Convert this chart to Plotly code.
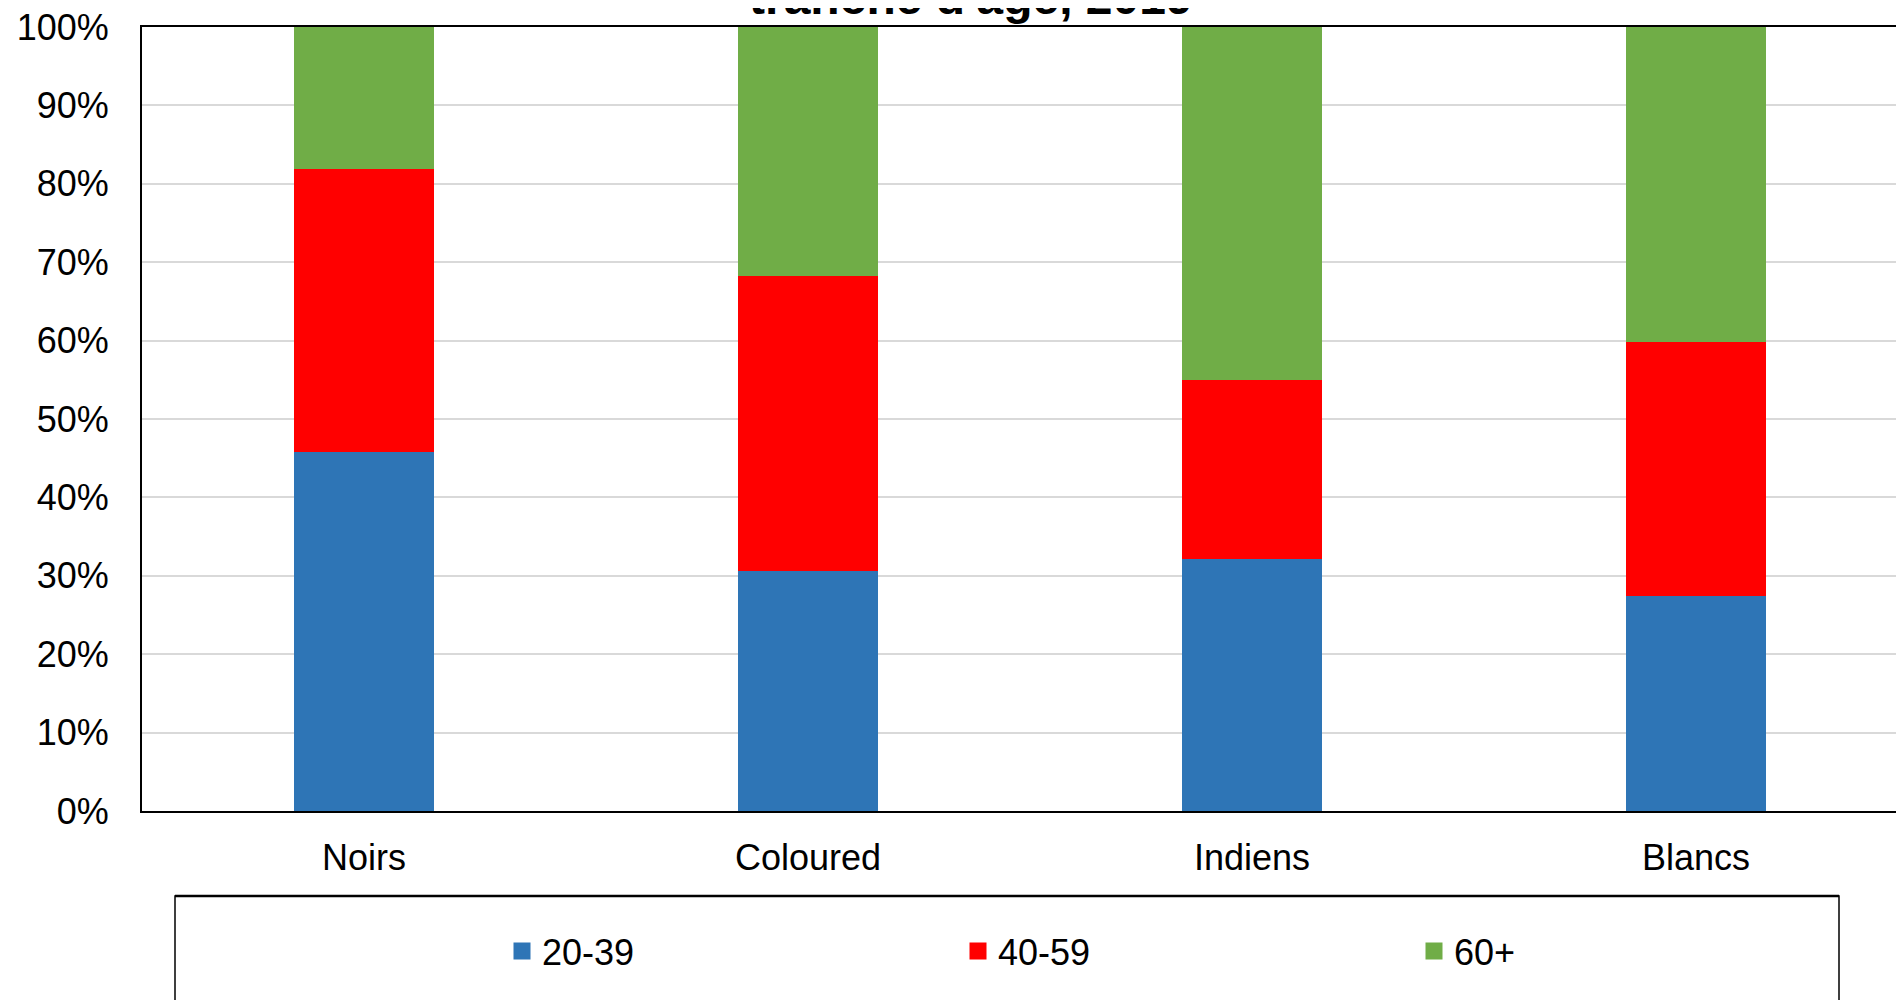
import plotly.graph_objects as go

categories = ["Noirs", "Coloured", "Indiens", "Blancs"]
age_groups = ["20-39", "40-59", "60+"]
values_20_39 = [45.8, 30.6, 32.1, 27.4]
values_40_59 = [36.1, 37.6, 22.9, 32.4]
values_60_plus = [18.1, 31.8, 45.0, 40.2]
colors = ["#2E75B6", "#FF0000", "#70AD47"]
title_visible = "tranche d'âge, 2019"

OFF = 8  # default page body margin
W, H = 1896, 992
L, R, T, B = 142 - OFF, 0, 27 - OFF, 189
plot_w = W - L - R
plot_h = H - T - B
cat_px = 444.0

def px_x(p):
    return (p - OFF - L) / plot_w

def px_y(p):
    return (H - B - (p - OFF)) / plot_h

FONT = "Liberation Sans, Arial, sans-serif"

fig = go.Figure()
for name, vals, col in zip(age_groups, [values_20_39, values_40_59, values_60_plus], colors):
    fig.add_trace(go.Bar(x=categories, y=vals, name=name, legendgroup=name, showlegend=False,
                         marker=dict(color=col, line=dict(width=0))))
# legend entries (larger swatches)
for name, col in zip(age_groups, colors):
    fig.add_trace(go.Bar(x=[None], y=[None], name=name, legendgroup=name, showlegend=True,
                         marker=dict(color=col, line=dict(color=col, width=5))))

x_end = -0.5 + plot_w / cat_px

fig.update_layout(
    width=W, height=H, autosize=False,
    margin=dict(l=L, r=R, t=T, b=B, pad=0),
    barmode="stack", bargap=0.683,
    plot_bgcolor="white", paper_bgcolor="white",
    font=dict(family=FONT, size=36, color="black"),
    showlegend=True,
    legend=dict(orientation="h", x=px_x(502), xanchor="left", y=px_y(951), yanchor="middle",
                entrywidth=411, entrywidthmode="pixels", font=dict(size=36, family=FONT, color="black"),
                bgcolor="rgba(0,0,0,0)", borderwidth=0, traceorder="normal"),
    xaxis=dict(range=[-0.5, x_end], showline=True, linecolor="black", linewidth=2, mirror=True,
               ticks="", showgrid=False, ticklabelstandoff=14, ticklabeloverflow="allow",
               tickfont=dict(size=36, family=FONT, color="black")),
    yaxis=dict(range=[0, 100], dtick=10, ticksuffix="%", showline=True, linecolor="black", linewidth=2,
               ticks="", showgrid=True, gridcolor="#d9d9d9", gridwidth=2, zeroline=False,
               ticklabelstandoff=24, ticklabeloverflow="allow",
               tickfont=dict(size=36, family=FONT, color="black")),
    shapes=[
        dict(type="rect", xref="paper", yref="paper", x0=px_x(175), x1=px_x(1839), y0=px_y(896), y1=px_y(1010),
             line=dict(color="black", width=1.5), fillcolor="rgba(0,0,0,0)", layer="below"),
        dict(type="line", xref="paper", yref="paper", x0=px_x(175), x1=px_x(1839), y0=px_y(896), y1=px_y(896),
             line=dict(color="black", width=2.5)),
    ],
    annotations=[
        dict(text="<b>" + title_visible + "</b>", xref="paper", yref="paper", x=px_x(971), y=px_y(26.5),
             xanchor="center", yanchor="bottom", showarrow=False,
             font=dict(size=48, family=FONT, color="black")),
    ],
)

fig.write_html("out.html")
